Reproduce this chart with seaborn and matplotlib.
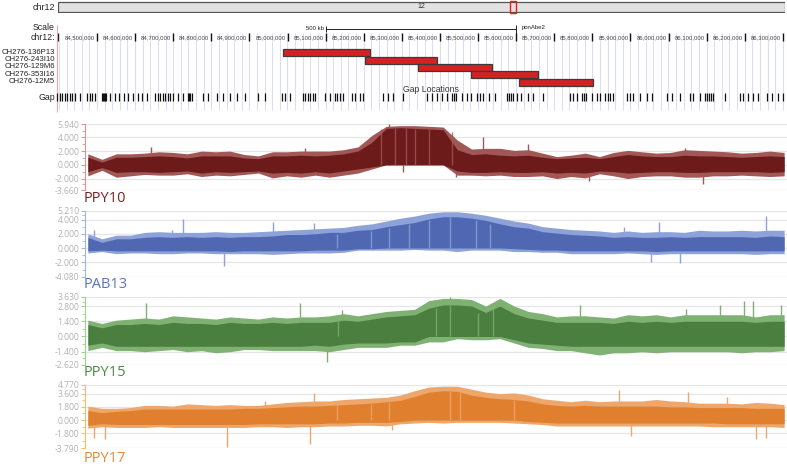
import numpy as np
import matplotlib
matplotlib.use("Agg")
import matplotlib.pyplot as plt
from matplotlib.patches import Rectangle
import seaborn as sns

sns.set_theme(style="white")
plt.rcParams['font.family'] = ['Liberation Sans', 'DejaVu Sans']

W, H = 787, 468

# ---- browser header data (positions in Mb) ----
chrom_len = 136.7
highlight = (85.0, 86.1)
scale_bar = (85.1, 85.6)
ruler_ticks = [84.5, 84.6, 84.7, 84.8, 84.9, 85.0, 85.1, 85.2, 85.3, 85.4,
               85.5, 85.6, 85.7, 85.8, 85.9, 86.0, 86.1, 86.2, 86.3]
ruler_labels = ["84,500,000", "84,600,000", "84,700,000", "84,800,000", "84,900,000",
                "85,000,000", "85,100,000", "85,200,000", "85,300,000", "85,400,000",
                "85,500,000", "85,600,000", "85,700,000", "85,800,000", "85,900,000",
                "86,000,000", "86,100,000", "86,200,000", "86,300,000"]
clone_names = ["CH276-136P13", "CH276-243I10", "CH276-129M6", "CH276-353I16", "CH276-12M5"]
clone_start = [84.988, 85.203, 85.343, 85.482, 85.608]
clone_end = [85.217, 85.392, 85.537, 85.657, 85.802]
gap_pos = [84.395, 84.403, 84.408, 84.416, 84.421, 84.429, 84.434, 84.442, 84.455, 84.474,
           84.482, 84.487, 84.495, 84.513, 84.516, 84.518, 84.521, 84.524, 84.534, 84.547,
           84.558, 84.571, 84.581, 84.594, 84.608, 84.618, 84.631, 84.652, 84.660, 84.665,
           84.673, 84.678, 84.686, 84.692, 84.699, 84.713, 84.726, 84.739, 84.742, 84.744,
           84.749, 84.778, 84.791, 84.815, 84.831, 84.849, 84.867, 84.888, 84.923, 84.941,
           84.986, 84.993, 85.007, 85.041, 85.046, 85.054, 85.059, 85.067, 85.072, 85.098,
           85.112, 85.125, 85.130, 85.138, 85.146, 85.169, 85.177, 85.190, 85.198, 85.251,
           85.264, 85.277, 85.303, 85.366, 85.379, 85.392, 85.406, 85.419, 85.432, 85.437,
           85.442, 85.458, 85.471, 85.482, 85.497, 85.505, 85.513, 85.529, 85.545, 85.576,
           85.581, 85.587, 85.592, 85.602, 85.613, 85.631, 85.644, 85.671, 85.741, 85.749,
           85.760, 85.773, 85.778, 85.783, 85.799, 85.812, 85.820, 85.833, 85.841, 85.846,
           85.854, 85.891, 85.899, 85.907, 85.925, 85.944, 85.957, 85.996, 86.009, 86.030,
           86.056, 86.064, 86.083, 86.096, 86.101, 86.106, 86.112, 86.117, 86.148, 86.188,
           86.196, 86.209, 86.222, 86.235, 86.259, 86.272, 86.287, 86.301]

# ---- data tracks: 50 bins across the region, envelope ----
ppy10_top = [1.6, 0.8, 1.6, 1.6, 1.7, 1.9, 1.8, 1.6, 2.0, 1.9, 2.0, 1.5, 1.3, 1.9, 1.9, 2.0, 2.0,
             2.0, 2.2, 2.6, 4.3, 5.6, 5.7, 5.7, 5.6, 5.5, 3.6, 2.3, 2.4, 2.4, 2.1, 2.2, 1.7, 1.2,
             1.4, 1.7, 1.2, 1.8, 2.1, 1.9, 1.7, 1.8, 2.2, 2.1, 2.0, 1.9, 1.7, 1.8, 2.0, 1.8]
ppy10_hi = [1.1, 0.4, 1.1, 1.1, 1.2, 1.3, 1.2, 1.0, 1.3, 1.3, 1.3, 1.0, 0.9, 1.3, 1.3, 1.4, 1.3,
            1.4, 1.6, 2.0, 3.3, 5.3, 5.4, 5.3, 5.2, 5.1, 2.2, 1.5, 1.6, 1.4, 1.3, 1.4, 1.1, 0.9,
            1.0, 1.1, 0.9, 1.2, 1.5, 1.3, 1.2, 1.2, 1.4, 1.3, 1.3, 1.2, 1.1, 1.2, 1.3, 1.2]
ppy10_lo = [-1.0, -0.4, -1.1, -1.0, -1.0, -1.1, -1.0, -0.9, -1.2, -1.0, -1.1, -1.0, -0.9, -1.2,
            -1.1, -1.2, -1.0, -1.2, -0.9, -0.6, -0.3, 0.0, 0.0, 0.0, 0.0, 0.0, -0.9, -1.1, -1.1,
            -1.0, -1.1, -1.1, -1.0, -1.2, -1.1, -1.2, -0.9, -1.0, -1.2, -1.1, -1.0, -1.0, -1.1,
            -1.1, -1.0, -1.0, -1.0, -1.0, -1.1, -1.0]
ppy10_bot = [-1.6, -0.8, -1.8, -1.6, -1.4, -1.5, -1.5, -1.3, -1.7, -1.5, -1.6, -1.4, -1.2, -1.9,
             -1.6, -1.8, -1.5, -1.8, -1.5, -1.2, -0.6, 0.0, 0.0, 0.0, 0.0, 0.0, -1.5, -1.5, -1.6,
             -1.5, -1.7, -1.7, -1.6, -2.0, -1.7, -1.9, -1.3, -1.6, -2.0, -1.7, -1.6, -1.6, -1.8,
             -1.8, -1.6, -1.6, -1.5, -1.6, -1.7, -1.6]
ppy10_spike_x = [4.97, 15.8, 21.7, 22.7, 26.4, 28.3, 31.5, 35.8, 42.5, 43.8]
ppy10_spike_y = [2.6, 2.4, 5.94, -1.1, -1.7, 4.0, 3.0, -2.4, 2.5, -2.8]
ppy10_dip_x = [21.1, 22.1, 22.9, 23.5, 24.5, 26.1]
ppy10_dip_y = [5.2, 5.4, 5.3, 5.2, 5.2, 4.8]

pab13_top = [2.0, 1.3, 1.8, 1.8, 2.2, 2.3, 2.2, 2.2, 2.2, 2.3, 2.2, 2.2, 2.3, 2.4, 2.5, 2.6, 2.7,
             2.8, 2.9, 3.2, 3.4, 3.8, 4.2, 4.5, 4.9, 5.1, 5.1, 4.9, 4.6, 4.2, 3.8, 3.5, 3.0, 2.8,
             2.6, 2.5, 2.4, 2.2, 2.4, 2.2, 2.3, 2.3, 2.2, 2.5, 2.4, 2.4, 2.5, 2.4, 2.5, 2.5]
pab13_hi = [1.5, 0.8, 1.3, 1.3, 1.5, 1.6, 1.5, 1.6, 1.5, 1.6, 1.5, 1.6, 1.6, 1.7, 1.9, 1.9, 2.0,
            2.2, 2.2, 2.5, 2.6, 3.0, 3.3, 3.6, 4.1, 4.4, 4.4, 4.2, 3.9, 3.4, 3.0, 2.8, 2.3, 2.1,
            1.9, 1.8, 1.7, 1.5, 1.6, 1.5, 1.5, 1.6, 1.5, 1.6, 1.6, 1.6, 1.6, 1.5, 1.7, 1.6]
pab13_lo = [-0.4, -0.3, -0.4, -0.4, -0.4, -0.4, -0.4, -0.4, -0.4, -0.4, -0.5, -0.4, -0.4, -0.4,
            -0.4, -0.4, -0.3, -0.3, -0.3, -0.1, -0.1, 0.0, 0.0, 0.0, 0.0, 0.0, 0.0, 0.0, 0.0, 0.0,
            -0.1, -0.2, -0.3, -0.3, -0.4, -0.4, -0.4, -0.4, -0.4, -0.4, -0.5, -0.4, -0.4, -0.4,
            -0.4, -0.4, -0.4, -0.4, -0.4, -0.4]
pab13_bot = [-0.7, -0.5, -0.8, -0.7, -0.7, -0.8, -0.8, -0.7, -0.7, -0.8, -0.8, -0.8, -0.8, -0.9,
             -0.8, -0.7, -0.7, -0.7, -0.6, -0.3, -0.3, -0.3, -0.3, -0.2, -0.3, -0.3, -0.5, -0.3,
             -0.3, -0.3, -0.5, -0.5, -0.6, -0.6, -0.8, -0.8, -0.8, -0.8, -0.7, -0.8, -0.9, -0.8,
             -0.8, -0.8, -0.8, -0.8, -0.8, -0.9, -0.8, -0.8]
pab13_spike_x = [0.9, 6.4, 7.2, 10.1, 13.5, 16.4, 38.2, 40.1, 40.7, 42.2, 48.2]
pab13_spike_y = [2.6, 2.6, 4.1, -2.5, 3.6, 3.5, 2.9, -2.0, 3.6, -2.1, 4.5]
pab13_dip_x = [18.0, 20.4, 21.7, 23.1, 24.5, 26.0, 27.8, 28.8]
pab13_dip_y = [2.0, 2.4, 2.8, 3.4, 4.0, 4.3, 4.0, 3.4]

ppy15_top = [1.5, 1.2, 1.5, 1.6, 1.7, 1.6, 1.9, 1.8, 1.7, 1.6, 1.8, 1.7, 1.6, 1.8, 1.7, 1.8, 1.8,
             1.9, 2.1, 1.9, 2.1, 2.3, 2.4, 2.5, 3.3, 3.5, 3.5, 3.4, 2.8, 3.5, 2.8, 2.3, 2.1, 1.8,
             1.9, 1.9, 1.8, 1.7, 2.0, 1.9, 2.0, 1.8, 2.0, 2.0, 2.0, 2.0, 2.0, 1.8, 2.0, 2.0]
ppy15_hi = [1.1, 0.8, 1.1, 1.1, 1.2, 1.1, 1.3, 1.2, 1.2, 1.1, 1.3, 1.2, 1.2, 1.3, 1.2, 1.3, 1.3,
            1.3, 1.5, 1.4, 1.6, 1.8, 1.9, 2.0, 2.6, 2.9, 2.9, 2.8, 2.2, 2.8, 2.1, 1.7, 1.5, 1.3,
            1.3, 1.3, 1.3, 1.2, 1.4, 1.3, 1.4, 1.3, 1.4, 1.4, 1.4, 1.4, 1.4, 1.3, 1.4, 1.4]
ppy15_lo = [-0.8, -0.6, -0.9, -0.9, -0.9, -0.9, -0.9, -0.9, -0.9, -0.9, -0.9, -0.9, -0.9, -0.9,
            -0.9, -0.9, -0.8, -0.9, -0.7, -0.6, -0.6, -0.6, -0.5, -0.5, 0.0, 0.0, 0.0, 0.0, 0.0,
            0.0, -0.3, -0.6, -0.7, -0.8, -0.9, -0.9, -0.9, -0.9, -0.9, -0.9, -0.9, -0.9, -0.9,
            -0.9, -0.9, -0.9, -0.9, -0.9, -0.9, -0.9]
ppy15_bot = [-1.3, -1.0, -1.3, -1.3, -1.4, -1.3, -1.2, -1.4, -1.3, -1.5, -1.4, -1.2, -1.2, -1.3,
             -1.3, -1.3, -1.3, -1.4, -1.2, -1.0, -1.0, -1.0, -0.8, -0.8, -0.5, -0.5, -0.2, -0.3,
             -0.3, -0.2, -0.6, -1.0, -1.1, -1.3, -1.3, -1.5, -1.7, -1.5, -1.5, -1.4, -1.5, -1.4,
             -1.4, -1.4, -1.4, -1.4, -1.5, -1.4, -1.4, -1.3]
ppy15_spike_x = [0.2, 4.6, 15.4, 17.3, 18.4, 26.0, 35.1, 42.6, 45.0, 46.7, 47.3, 49.3]
ppy15_spike_y = [3.6, 3.1, 3.1, -2.3, 2.4, 3.63, 2.9, 2.5, 2.9, 3.3, 3.3, 2.9]
ppy15_dip_x = [18.1, 24.97, 26.0, 27.97, 29.0]
ppy15_dip_y = [1.4, 2.6, 2.9, 2.2, 2.8]

ppy17_top = [1.9, 1.6, 1.6, 1.7, 2.0, 2.0, 1.9, 2.2, 2.1, 2.0, 2.1, 2.0, 2.0, 2.2, 2.4, 2.5, 2.6,
             2.6, 2.8, 2.9, 3.0, 3.1, 3.4, 4.0, 4.5, 4.6, 4.6, 4.2, 3.8, 3.6, 3.7, 3.4, 2.9, 2.7,
             2.5, 2.7, 2.5, 2.6, 2.6, 2.6, 2.8, 2.6, 2.5, 2.3, 2.3, 2.3, 2.2, 2.4, 2.3, 2.1]
ppy17_hi = [1.3, 1.0, 1.2, 1.3, 1.5, 1.5, 1.5, 1.5, 1.5, 1.5, 1.5, 1.6, 1.6, 1.7, 1.8, 1.9, 1.9,
            2.0, 2.1, 2.2, 2.3, 2.5, 2.7, 3.2, 3.8, 4.0, 3.9, 3.4, 3.1, 2.9, 2.8, 2.6, 2.2, 2.0,
            1.9, 2.0, 1.9, 1.9, 1.9, 1.9, 1.9, 1.8, 1.8, 1.7, 1.7, 1.7, 1.7, 1.6, 1.6, 1.6]
ppy17_lo = [-0.7, -0.5, -0.6, -0.6, -0.6, -0.6, -0.6, -0.6, -0.6, -0.6, -0.6, -0.6, -0.5, -0.5,
            -0.5, -0.5, -0.5, -0.4, -0.4, -0.3, -0.3, -0.3, -0.2, 0.0, 0.0, 0.0, 0.0, 0.0, 0.0,
            0.0, 0.0, -0.2, -0.3, -0.4, -0.4, -0.4, -0.4, -0.4, -0.4, -0.4, -0.4, -0.4, -0.4,
            -0.4, -0.4, -0.5, -0.5, -0.5, -0.5, -0.5]
ppy17_bot = [-1.1, -0.9, -1.0, -1.0, -1.0, -0.9, -1.0, -1.0, -1.0, -1.0, -1.0, -1.0, -0.9, -0.9,
             -1.0, -0.9, -0.9, -0.8, -0.8, -0.7, -0.7, -0.8, -0.5, -0.4, -0.3, -0.4, -0.3, -0.3,
             -0.3, -0.3, -0.4, -0.5, -0.6, -0.8, -0.8, -0.8, -0.8, -0.8, -0.8, -0.8, -0.8, -0.8,
             -0.8, -0.8, -0.9, -0.9, -0.9, -0.9, -0.9, -1.0]
ppy17_spike_x = [0.1, 0.9, 1.7, 10.3, 13.0, 16.1, 16.4, 21.9, 37.9, 38.7, 42.7, 45.5, 47.5, 48.2]
ppy17_spike_y = [-2.8, -2.4, -2.6, -3.6, 2.6, -3.2, 3.7, -1.4, 4.1, -2.2, 3.8, 3.2, -2.6, -2.4]
ppy17_dip_x = [18.0, 20.4, 21.7, 26.0, 26.7, 30.5]
ppy17_dip_y = [2.0, 2.2, 2.4, 3.9, 3.7, 2.7]

track_names = ["PPY10", "PAB13", "PPY15", "PPY17"]
track_ylim = [(-3.66, 5.94), (-4.08, 5.21), (-2.62, 3.63), (-3.79, 4.77)]
track_ticks = [[5.94, 4.0, 2.0, 0.0, -2.0, -3.66],
               [5.21, 4.0, 2.0, 0.0, -2.0, -4.08],
               [3.63, 2.8, 1.4, 0.0, -1.4, -2.62],
               [4.77, 3.6, 1.8, 0.0, -1.8, -3.79]]
track_data = [(ppy10_top, ppy10_hi, ppy10_lo, ppy10_bot, ppy10_spike_x, ppy10_spike_y,
               ppy10_dip_x, ppy10_dip_y),
              (pab13_top, pab13_hi, pab13_lo, pab13_bot, pab13_spike_x, pab13_spike_y,
               pab13_dip_x, pab13_dip_y),
              (ppy15_top, ppy15_hi, ppy15_lo, ppy15_bot, ppy15_spike_x, ppy15_spike_y,
               ppy15_dip_x, ppy15_dip_y),
              (ppy17_top, ppy17_hi, ppy17_lo, ppy17_bot, ppy17_spike_x, ppy17_spike_y,
               ppy17_dip_x, ppy17_dip_y)]

# styles
core_colors = ["#6c1a1a", "#5068b2", "#4a7f40", "#e0802e"]
light_colors = ["#a25757", "#8ea2da", "#7fb173", "#eea66a"]
spine_colors = ["#d99494", "#9fb5e6", "#96d486", "#f5bb66"]
label_colors = ["#7a2222", "#5a72c2", "#4b8a42", "#e3893a"]
track_px = [(124, 190), (211, 277), (297, 365), (385, 448)]
label_y = [199, 285, 372, 459]

fig = plt.figure(figsize=(W / 100, H / 100), dpi=100)
fig.patch.set_facecolor("white")

# ---- chromosome ideogram ----
iax = fig.add_axes([58 / W, 1 - 13 / H, 727 / W, 12 / H])
iax.set_xlim(0, chrom_len)
iax.set_ylim(0, 1)
iax.axis("off")
iax.add_patch(Rectangle((0, 0.1), chrom_len, 0.8, facecolor="#e2e2e2",
                        edgecolor="#555555", lw=0.9))
iax.add_patch(Rectangle((highlight[0], 0.0), highlight[1] - highlight[0], 1.0,
                        facecolor="none", edgecolor="#e02020", lw=1.0, clip_on=False))
iax.text(chrom_len / 2, 0.5, "12", ha="center", va="center", fontsize=5, color="#333333")

# ---- browser header in Mb coordinates ----
MB_PX = 1 / 381.0
X0 = 84.5 - 97 * MB_PX
X1 = X0 + W * MB_PX
hax = fig.add_axes([0, 0, 1, 1], zorder=-1)
hax.set_xlim(X0, X1)
hax.set_ylim(H, 0)
hax.axis("off")
left_lbl = X0 + 55 * MB_PX

hax.text(left_lbl, 7, "chr12", ha="right", va="center", fontsize=6.5, color="#222222")

grid_x = np.arange(84.40, 86.32, 0.02)
hax.vlines(grid_x, 33, 110, color="#dcdcf2", lw=0.8, zorder=1)
hax.vlines([X0 + 57 * MB_PX], 25, 112, color="#f2a6a6", lw=0.8, zorder=1)

hax.text(left_lbl, 28, "Scale", ha="right", va="center", fontsize=6.3, color="#222222")
hax.hlines(29, scale_bar[0], scale_bar[1], color="#222222", lw=0.7)
hax.vlines([scale_bar[0]], 26, 32, color="#222222", lw=0.7)
hax.vlines([scale_bar[1]], 25, 34, color="#222222", lw=0.7)
hax.text(scale_bar[0] - 2 * MB_PX, 28, "500 kb", ha="right", va="center", fontsize=4.3,
         color="#222222")
hax.text(scale_bar[1] + 6 * MB_PX, 28, "ponAbe2", ha="left", va="center", fontsize=4.3,
         color="#222222")

hax.text(left_lbl, 37, "chr12:", ha="right", va="center", fontsize=6.3, color="#222222")
hax.vlines([X0 + 58 * MB_PX], 33, 41, color="#222222", lw=0.8, zorder=2)
hax.vlines(ruler_ticks, 33, 41, color="#111111", lw=1.0, zorder=2)
for t, lab in zip(ruler_ticks, ruler_labels):
    hax.text(t - 2 * MB_PX, 37.5, lab, ha="right", va="center", fontsize=4.3, color="#444444")

row_y = [52.5, 60.0, 67.5, 74.8, 82.3]
for name, s, e, y in zip(clone_names, clone_start, clone_end, row_y):
    hax.text(left_lbl, y - 0.5, name, ha="right", va="center", fontsize=5.6, color="#222222")
    hax.add_patch(Rectangle((s, y - 3.5), e - s, 7, facecolor="#d42222",
                            edgecolor="#3a3a3a", lw=0.9, zorder=4))

hax.text(X0 + 403 * MB_PX, 89, "Gap Locations", ha="left", va="center", fontsize=6.2,
         color="#333333", zorder=5)
hax.text(left_lbl, 97, "Gap", ha="right", va="center", fontsize=6.3, color="#222222")
hax.vlines(gap_pos, 93, 101, color="#111111", lw=0.9, zorder=3)

# ---- signal tracks ----
xc = np.arange(50) + 0.5
for k, name in enumerate(track_names):
    top_px, bot_px = track_px[k]
    ax = fig.add_axes([85 / W, 1 - bot_px / H, (787 - 85) / W, (bot_px - top_px) / H])
    ax.set_facecolor("none")
    top, hi, lo, bot, sx, sy, dx, dy = track_data[k]
    ymin, ymax = track_ylim[k]
    for t in track_ticks[k]:
        ax.axhline(t, color="#e6e6e6", lw=0.9, zorder=0)
    ax.fill_between(xc, bot, top, color=light_colors[k], lw=0, zorder=1)
    ax.fill_between(xc, lo, hi, color=core_colors[k], lw=0, zorder=2)
    ax.vlines(sx, 0, sy, color=light_colors[k], lw=1.0, zorder=1.5)
    ax.vlines(dx, 0, dy, color=light_colors[k], lw=1.0, alpha=0.8, zorder=2.5)
    ax.set_xlim(0.3, 49.7)
    ax.set_ylim(ymin, ymax)
    ax.set_xticks([])
    ticks = track_ticks[k]
    ax.set_yticks(ticks)
    ax.set_yticklabels([f"{t:.3f}" for t in ticks], fontsize=6.2, color="#b3b3b3",
                       family=["Open Sans", "DejaVu Sans"])
    ax.set_yticks([(a + b) / 2 for a, b in zip(ticks[:-1], ticks[1:])], minor=True)
    ax.tick_params(axis="y", which="major", length=3, width=0.7, color=spine_colors[k],
                   pad=1, left=True)
    ax.tick_params(axis="y", which="minor", length=2, width=0.6, color=spine_colors[k],
                   left=True)
    sns.despine(ax=ax, top=True, right=True, bottom=True, left=False)
    ax.spines["left"].set_color(spine_colors[k])
    ax.spines["left"].set_linewidth(0.8)
    ax.grid(False)
    fig.text(84 / W, 1 - label_y[k] / H, name, ha="left", va="center", fontsize=10.5,
             color=label_colors[k], family=["Open Sans", "DejaVu Sans"])

fig.savefig("out.png", dpi=100, facecolor="white")
